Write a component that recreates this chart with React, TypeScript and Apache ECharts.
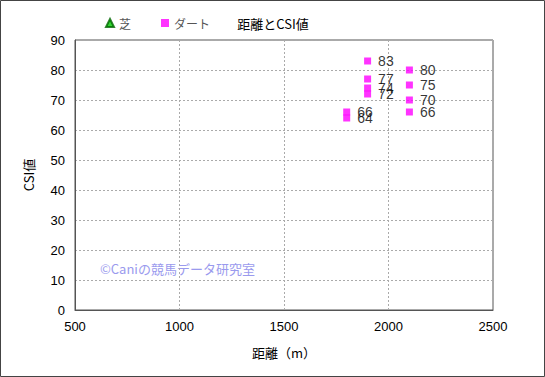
import React, { useEffect, useRef } from "react";
import * as echarts from "echarts";

const titleText = "距離とCSI値";
const turfName = "芝";
const dirtName = "ダート";
const turfData: [number, number][] = [];
const dirtData: [number, number][] = [
  [1800, 66],
  [1800, 64],
  [1900, 83],
  [1900, 77],
  [1900, 74],
  [1900, 72],
  [2100, 80],
  [2100, 75],
  [2100, 70],
  [2100, 66],
];
const watermark = "©Caniの競馬データ研究室";

const FONT = "'Noto Sans CJK JP', 'Noto Sans', sans-serif";
const NUMFONT = "'Liberation Sans', Arial, sans-serif";

export default function App() {
  const ref = useRef<HTMLDivElement>(null);
  useEffect(() => {
    const chart = echarts.init(ref.current!, null, { renderer: "svg" });
    chart.setOption({
      animation: false,
      backgroundColor: "#ffffff",
      textStyle: { fontFamily: FONT },
      title: {
        text: titleText,
        left: 268,
        top: 12,
        textAlign: "center",
        textStyle: { fontSize: 13, fontWeight: "normal", color: "#000", fontFamily: FONT },
      },
      legend: {
        left: 100,
        top: 12,
        itemWidth: 8,
        itemHeight: 8,
        itemGap: 30,
        textStyle: { fontSize: 12, color: "#555", fontFamily: FONT },
        data: [
          { name: turfName, icon: "triangle" },
          { name: dirtName, icon: "rect" },
        ],
      },
      graphic: [
        {
          type: "rect",
          shape: { x: 0.5, y: 0.5, width: 544, height: 376 },
          style: { fill: "none", stroke: "#444", lineWidth: 1 },
          silent: true,
        },
        {
          type: "text",
          left: 100,
          top: 262,
          style: { text: watermark, fill: "#9a9aee", fontSize: 13, fontFamily: FONT },
          silent: true,
        },
      ],
      grid: { left: 75, right: 52, top: 40, bottom: 67, show: true, borderColor: "#555", borderWidth: 1 },
      xAxis: {
        type: "value",
        min: 500,
        max: 2500,
        interval: 500,
        name: "距離（m）",
        nameLocation: "middle",
        nameGap: 36,
        nameTextStyle: { fontSize: 13, color: "#000", fontFamily: FONT },
        axisLine: { show: true, lineStyle: { color: "#555" } },
        axisTick: { show: false },
        axisLabel: { fontSize: 13, color: "#000", margin: 10, fontFamily: NUMFONT, formatter: (v: number) => String(v) },
        splitLine: { show: true, lineStyle: { color: "#aaa", type: [2, 2] } },
      },
      yAxis: {
        type: "value",
        min: 0,
        max: 90,
        interval: 10,
        name: "CSI値",
        nameLocation: "middle",
        nameGap: 40,
        nameTextStyle: { fontSize: 13, color: "#000", fontFamily: FONT },
        axisLine: { show: true, lineStyle: { color: "#555" } },
        axisTick: { show: false },
        axisLabel: { fontSize: 13, color: "#000", margin: 10, fontFamily: NUMFONT },
        splitLine: { show: true, lineStyle: { color: "#aaa", type: [2, 2] } },
      },
      series: [
        {
          name: turfName,
          type: "scatter",
          symbol: "triangle",
          symbolSize: 8,
          itemStyle: { color: "#00cc00", borderColor: "#006600", borderWidth: 0.5 },
          data: turfData,
        },
        {
          name: dirtName,
          type: "scatter",
          symbol: "rect",
          symbolSize: 7,
          itemStyle: { color: "#ff00ff" },
          label: {
            show: true,
            position: "right",
            distance: 7,
            formatter: (p: any) => String(p.value[1]),
            fontSize: 14,
            color: "#000",
            fontFamily: NUMFONT,
          },
          data: dirtData,
        },
      ],
    });
    return () => chart.dispose();
  }, []);
  return (
    <div
      ref={ref}
      style={{ position: "absolute", left: 0, top: 0, width: 545, height: 377 }}
    />
  );
}
